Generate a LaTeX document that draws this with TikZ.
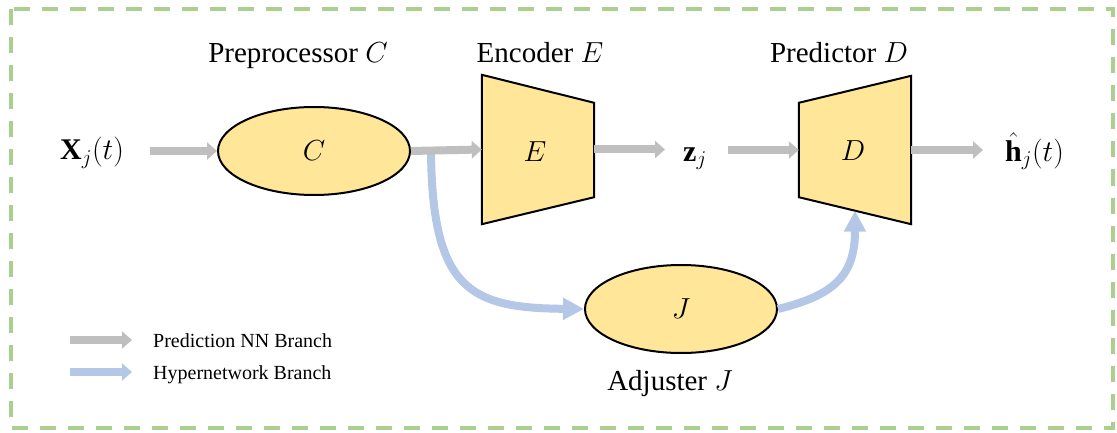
\RequirePackage{fix-cm}
\documentclass[tikz,border=0pt]{standalone}
\usepackage{fontspec}
\setmainfont{Liberation Serif}
\usetikzlibrary{shapes.geometric,arrows.meta}
\definecolor{gArrow}{HTML}{BFBFBF}
\definecolor{bArrow}{HTML}{B4C7E7}
\definecolor{frameGreen}{HTML}{A9D08E}
\definecolor{boxFill}{HTML}{FFE699}
\begin{document}
\begin{tikzpicture}[x=1pt,y=-1pt,
  bigtxt/.style={font=\fontsize{29}{34}\selectfont, inner sep=0pt},
  mathlbl/.style={font=\fontsize{30}{34}\selectfont, inner sep=0pt, anchor=base west},
  legtxt/.style={font=\fontsize{20}{24}\selectfont, inner sep=0pt, anchor=base west},
  blk/.style={draw=black, line width=2pt, fill=boxFill, line join=miter},
  ell/.style={blk, ellipse, minimum width=192pt, minimum height=88pt, inner sep=0pt, font=\fontsize{29}{34}\selectfont},
  boxframe/.style={minimum width=112pt, inner sep=0pt},
  garrow/.style={draw=gArrow, line width=8pt, -{Triangle[length=10pt,width=17pt]}},
  barrow/.style={draw=bArrow, line width=8pt, -{Triangle[length=21pt,width=21pt]}},
  blegend/.style={draw=bArrow, line width=8pt, -{Triangle[length=10pt,width=17pt]}},
  frame/.style={draw=frameGreen, line width=4pt, dash pattern=on 16pt off 12pt}
]
\useasboundingbox (0,0) rectangle (1117,433);
\draw[frame] (10.5,9) rectangle (1113,428);

% nodes
\node[ell] (C) at (314,151) {$C$};
\node[ell] (J) at (681,309) {$J$};
\node[boxframe, minimum height=149pt] (E) at (538,149.5) {};
\node[boxframe, minimum height=148pt] (D) at (855,150) {};
\path[blk] (E.north west) -- ([yshift=-28pt]E.north east) -- ([yshift=27pt]E.south east) -- (E.south west) -- cycle;
\path[blk] ([yshift=-27pt]D.north west) -- (D.north east) -- (D.south east) -- ([yshift=27pt]D.south west) -- cycle;
\node[bigtxt] (Elbl) at (535,152) {$E$};
\node[bigtxt] (Dlbl) at (853,151) {$D$};

\node[mathlbl] (X) at (60,160) {$\mathbf{X}_j(t)$};
\node[mathlbl] (Z) at (683,161) {$\mathbf{z}_j$};
\node[mathlbl] (H) at (1005,161) {$\hat{\mathbf{h}}_j(t)$};

\node[bigtxt, anchor=base] (tC) at (298,63) {Preprocessor $C$};
\node[bigtxt, anchor=base] (tE) at (540,63) {Encoder $E$};
\node[bigtxt, anchor=base] (tD) at (839,63) {Predictor $D$};
\node[bigtxt, anchor=base] (tJ) at (670,390) {Adjuster $J$};

\coordinate (split) at (431,150);
\coordinate (Dbot) at ([yshift=13.5pt]D.south);

% hypernetwork branch
\draw[barrow] (split) .. controls (432,290) and (470,308) .. (J.west);
\draw[barrow] (J.east) .. controls (835,295) and (855,275) .. (Dbot);

% prediction branch
\draw[garrow] (150,0 |- C.west) -- (C.west);
\draw[garrow] (C.east) -- (E.west);
\draw[garrow] (E.east) -- ([xshift=-18pt]Z.west |- E.east);
\draw[garrow] ([xshift=45pt]Z.west |- D.west) -- (D.west);
\draw[garrow] (D.east) -- ([xshift=-22pt]H.west |- D.east);

% legend
\coordinate (lg1s) at (70,340);
\coordinate (lg1e) at (132,340);
\coordinate (lg2s) at (70,372);
\coordinate (lg2e) at (132,372);
\draw[garrow] (lg1s) -- (lg1e);
\draw[blegend] (lg2s) -- (lg2e);
\node[legtxt] (l1) at (153,347) {Prediction NN Branch};
\node[legtxt] (l2) at (153,379) {Hypernetwork Branch};
\end{tikzpicture}
\end{document}
